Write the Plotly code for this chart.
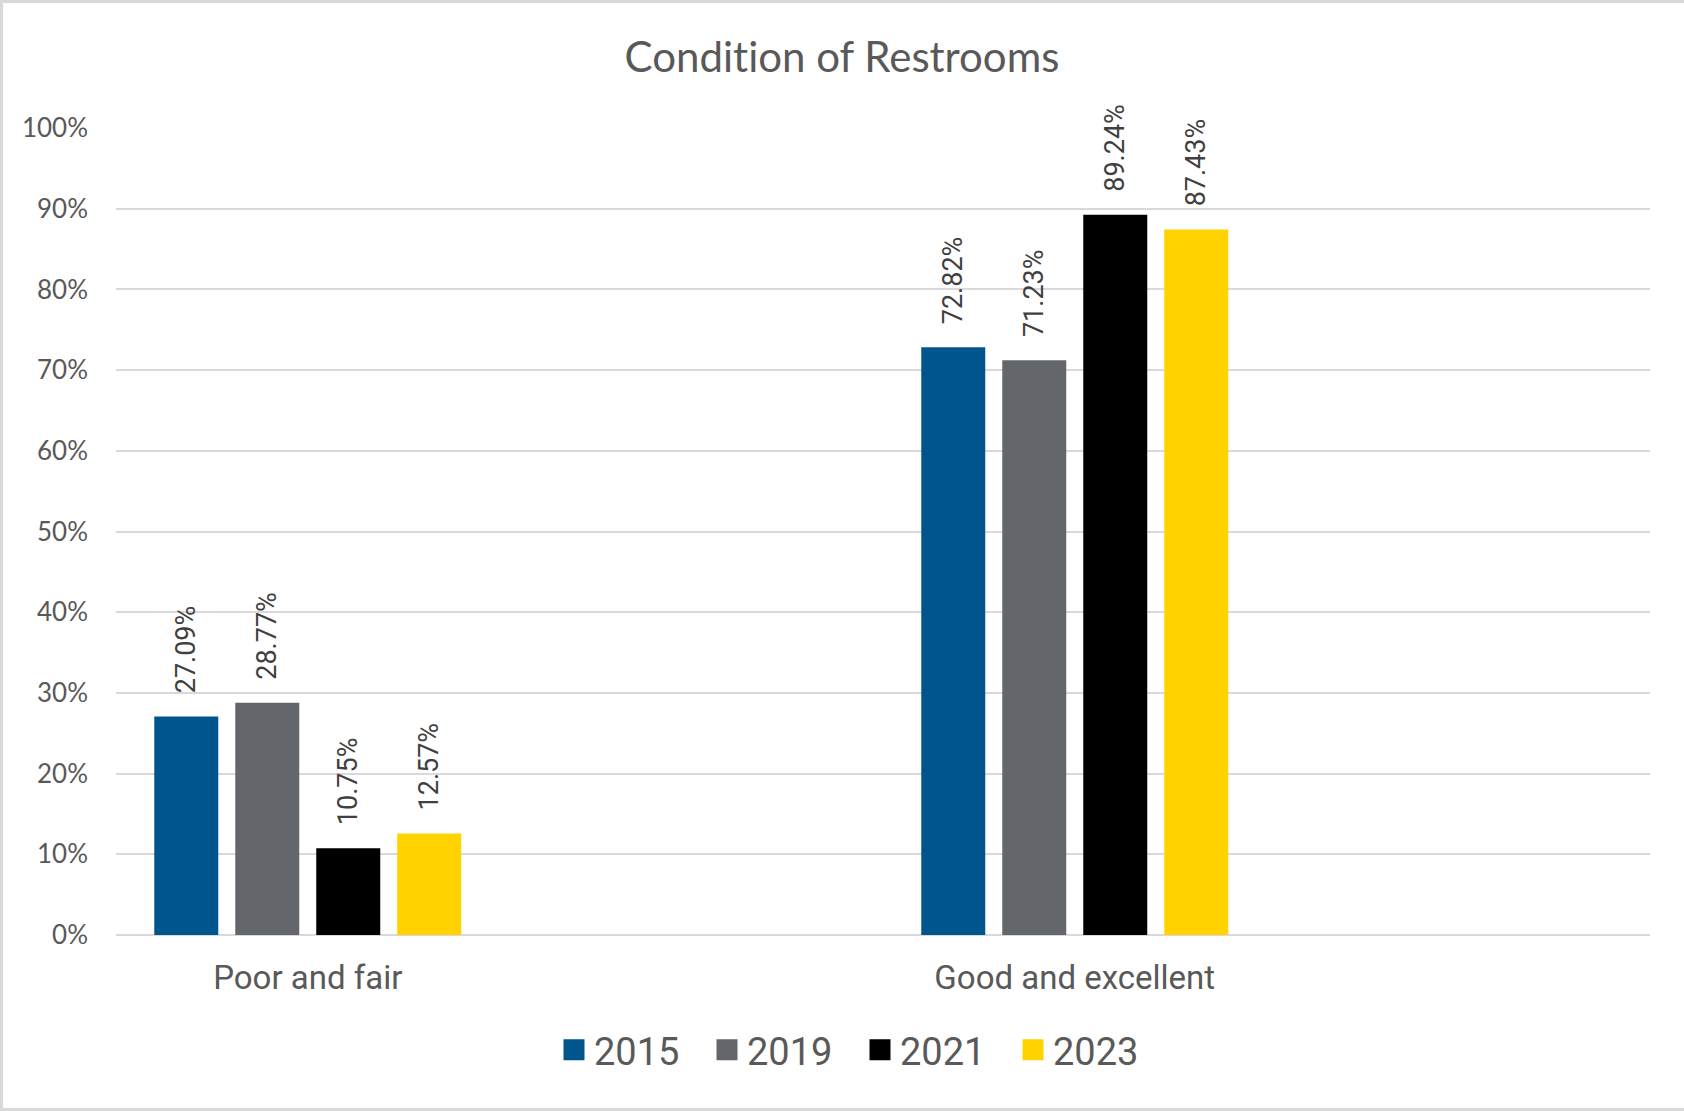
import plotly.graph_objects as go

categories = ["Poor and fair", "Good and excellent"]
years = ["2015", "2019", "2021", "2023"]
values_2015 = [0.2709, 0.7282]
values_2019 = [0.2877, 0.7123]
values_2021 = [0.1075, 0.8924]
values_2023 = [0.1257, 0.8743]
series_values = [values_2015, values_2019, values_2021, values_2023]
colors = ["#00558C", "#63666A", "#000000", "#FFD200"]
y_ticks = [0, 0.1, 0.2, 0.3, 0.4, 0.5, 0.6, 0.7, 0.8, 0.9, 1.0]

TEXT = "#595959"
fig = go.Figure()
for yr, vals, col in zip(years, series_values, colors):
    fig.add_trace(go.Bar(
        name=yr, x=categories, y=vals,
        marker=dict(color=col, line=dict(width=0)),
        texttemplate="\u00a0\u00a0\u00a0%{y:.2%}",
        textposition="outside", textangle=-90,
        textfont=dict(family="Roboto", size=27, color="#404040"),
        cliponaxis=False, constraintext="none",
        showlegend=False, hoverinfo="skip",
    ))
for yr, col in zip(years, colors):
    fig.add_trace(go.Scatter(
        name=yr, x=[None], y=[None], mode="markers",
        marker=dict(symbol="square", size=16, color=col,
                    line=dict(color=col, width=5)),
        showlegend=True,
    ))

# outer frame (top, left, bottom)
W, H = 1684, 1111
L, R, T, B = 116, 34, 128, 176
pw, ph = W - L - R, H - T - B
def px(x):
    return (x - L) / pw
def py(y):
    return (H - B - y) / ph
frame = dict(color="#D9D9D9", width=3)
fig.add_shape(type="line", xref="paper", yref="paper", x0=px(0), x1=px(W), y0=py(1.5), y1=py(1.5), line=frame)
fig.add_shape(type="line", xref="paper", yref="paper", x0=px(1.5), x1=px(1.5), y0=py(0), y1=py(H), line=frame)
fig.add_shape(type="line", xref="paper", yref="paper", x0=px(0), x1=px(W), y0=py(H - 1.5), y1=py(H - 1.5), line=frame)

fig.update_layout(
    width=W, height=H,
    margin=dict(l=L, r=R, t=T, b=B),
    paper_bgcolor="white", plot_bgcolor="white",
    barmode="group", bargap=0.5776, bargroupgap=0.21,
    title=dict(text="Condit\u200cion of Restrooms", x=0.5, xanchor="center",
               y=1 - 57 / H, yanchor="middle",
               font=dict(family="Lato", size=42, color=TEXT)),
    xaxis=dict(type="category", range=[-0.25, 1.75], showgrid=False,
               showline=False, ticks="", ticklabelstandoff=20,
               tickfont=dict(family="Roboto", size=33, color=TEXT)),
    yaxis=dict(range=[0, 1], tickvals=y_ticks, tickformat=".0%",
               showgrid=True, gridcolor="#D9D9D9", gridwidth=2,
               zeroline=True, zerolinecolor="#D9D9D9", zerolinewidth=2,
               showline=False, ticks="", ticklabelstandoff=27,
               tickfont=dict(family="Lato", size=26, color=TEXT)),
    legend=dict(orientation="h", x=px(554), xanchor="left",
                y=py(1050), yanchor="middle",
                font=dict(family="Roboto", size=38, color=TEXT),
                entrywidth=108, entrywidthmode="pixels",
                bgcolor="rgba(0,0,0,0)"),
)

fig.write_html("out.html", config={"displayModeBar": False},
               post_script="document.body.style.margin='0';document.body.style.overflow='hidden';")
